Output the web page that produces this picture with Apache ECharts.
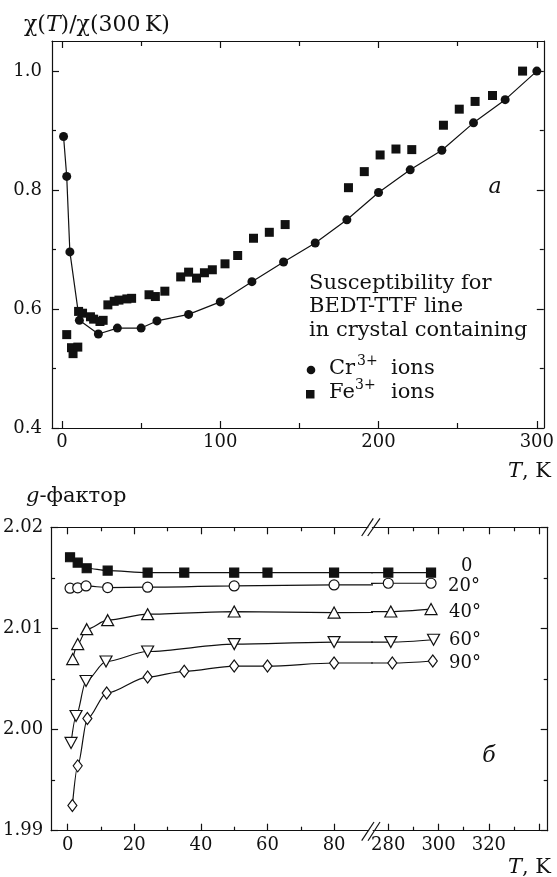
<!DOCTYPE html>
<html><head><meta charset="utf-8">
<script src="https://cdn.jsdelivr.net/npm/echarts@6/dist/echarts.min.js"></script>
<style>html,body{margin:0;padding:0;background:#fff}#c{width:557px;height:877px}</style>
</head><body><div id="c"></div><script>
const FONT = 'DejaVu Serif';
const INK = '#111';

// ---- Panel a: chi(T)/chi(300 K) ----
const crT   = [1, 3, 5, 11, 23, 35, 50, 60, 80, 100, 120, 140, 160, 180, 200, 220, 240, 260, 280, 300];
const crChi = [0.890, 0.823, 0.696, 0.581, 0.558, 0.568, 0.568, 0.580, 0.591, 0.612, 0.646, 0.679, 0.711, 0.750, 0.796, 0.834, 0.867, 0.913, 0.952, 1.000];
const feT   = [3, 6, 7, 10, 10.5, 13, 18, 20, 24, 26, 29, 33, 36, 41, 44, 55, 59, 65, 75, 80, 85, 90, 95, 103, 111, 121, 131, 141, 181, 191, 201, 211, 221, 241, 251, 261, 272, 291];
const feChi = [0.557, 0.535, 0.525, 0.536, 0.596, 0.593, 0.587, 0.583, 0.579, 0.581, 0.607, 0.613, 0.615, 0.617, 0.618, 0.624, 0.621, 0.630, 0.654, 0.662, 0.652, 0.661, 0.666, 0.676, 0.690, 0.719, 0.729, 0.742, 0.804, 0.831, 0.859, 0.869, 0.868, 0.909, 0.936, 0.949, 0.959, 1.000];
const topXMajor = [0, 100, 200, 300];
const topXMinor = [50, 150, 250];
const topYMajor = [0.4, 0.6, 0.8, 1.0];
const topYMinor = [0.5, 0.7, 0.9];

// ---- Panel б: g-factor ----
const g0T  = [0.7, 3, 5.7, 12, 24, 35, 50, 60, 80, 280, 297];
const g0   = [2.01704, 2.01651, 2.01595, 2.01572, 2.01552, 2.01552, 2.01552, 2.01552, 2.01552, 2.01552, 2.01552];
const g20T = [0.7, 3, 5.5, 12, 24, 50, 80, 280, 297];
const g20  = [2.01398, 2.01402, 2.01420, 2.01404, 2.01408, 2.01420, 2.01430, 2.01447, 2.01447];
const g40T = [1.5, 3, 5.7, 12, 24, 50, 80, 281, 297];
const g40  = [2.00697, 2.00845, 2.00993, 2.01082, 2.01141, 2.01167, 2.01157, 2.01167, 2.01191];
const g60T = [1, 2.5, 5.5, 11.5, 24, 50, 80, 281, 298];
const g60  = [1.99868, 2.00134, 2.00480, 2.00673, 2.00772, 2.00845, 2.00865, 2.00865, 2.00888];
const g90T = [1.4, 3, 5.9, 11.7, 24, 35, 50, 60, 80, 281.6, 297.7];
const g90  = [1.99250, 1.99641, 2.00109, 2.00361, 2.00519, 2.00576, 2.00628, 2.00628, 2.00658, 2.00658, 2.00678];
const angleLabels = ['0', '20°', '40°', '60°', '90°'];
const botXMajorL = [0, 20, 40, 60, 80];
const botXMinorL = [10, 30, 50, 70];
const botXMajorR = [280, 300, 320, 340];
const botXLabelR = [280, 300, 320];
const botXMinorR = [290, 310, 330];
const botYMajor = [1.99, 2.00, 2.01, 2.02];
const botYMinor = [1.995, 2.005, 2.015];

const zip = (a, b) => a.map((v, i) => [v, b[i]]);

function ax(gridIndex, position, min, max, ticks, tickLen, labels, fmt, showLine, margin) {
  return {
    type: 'value', gridIndex, position, min, max,
    axisLine: { show: showLine, onZero: false, lineStyle: { color: INK, width: 1.2 } },
    axisTick: { show: true, inside: true, length: tickLen, customValues: ticks, lineStyle: { color: INK, width: 1.2 } },
    axisLabel: labels ? { show: true, customValues: labels, formatter: fmt, fontFamily: FONT, fontSize: 18, color: INK, margin: margin } : { show: false },
    splitLine: { show: false }, minorTick: { show: false }, minorSplitLine: { show: false }
  };
}
const f0 = v => String(v);
const f1 = v => v.toFixed(1);
const f2 = v => v.toFixed(2);

const TX = [-6.3, 304.4], TY = [0.4, 1.0506];
const BXL = [-5, 91.3], BXR = [273.4, 343.4], BY = [1.99, 2.02];

const xAxis = [
  ax(0, 'bottom', TX[0], TX[1], topXMajor, 7, topXMajor, f0, true, 5),
  ax(0, 'bottom', TX[0], TX[1], topXMinor, 5, null, null, false),
  ax(0, 'top', TX[0], TX[1], topXMajor, 7, null, null, true),
  ax(0, 'top', TX[0], TX[1], topXMinor, 5, null, null, false),
  ax(1, 'bottom', BXL[0], BXL[1], botXMajorL, 7, botXMajorL, f0, true, 6),
  ax(1, 'bottom', BXL[0], BXL[1], botXMinorL, 4, null, null, false),
  ax(1, 'top', BXL[0], BXL[1], botXMajorL, 7, null, null, true),
  ax(1, 'top', BXL[0], BXL[1], botXMinorL, 4, null, null, false),
  ax(2, 'bottom', BXR[0], BXR[1], botXMajorR, 7, botXLabelR, f0, true, 6),
  ax(2, 'bottom', BXR[0], BXR[1], botXMinorR, 4, null, null, false),
  ax(2, 'top', BXR[0], BXR[1], botXMajorR, 7, null, null, true),
  ax(2, 'top', BXR[0], BXR[1], botXMinorR, 4, null, null, false)
];
const yAxis = [
  ax(0, 'left', TY[0], TY[1], topYMajor, 7, topYMajor, f1, true, 10),
  ax(0, 'left', TY[0], TY[1], topYMinor, 4, null, null, false),
  ax(0, 'right', TY[0], TY[1], topYMajor, 7, null, null, true),
  ax(0, 'right', TY[0], TY[1], topYMinor, 4, null, null, false),
  ax(1, 'left', BY[0], BY[1], botYMajor, 7, botYMajor, f2, true, 8),
  ax(1, 'left', BY[0], BY[1], botYMinor, 4, null, null, false),
  ax(2, 'right', BY[0], BY[1], botYMajor, 7, null, null, true),
  ax(2, 'right', BY[0], BY[1], botYMinor, 4, null, null, false)
];

const series = [
  { type: 'line', xAxisIndex: 0, yAxisIndex: 0, data: zip(crT, crChi), symbol: 'circle', symbolSize: 9,
    showAllSymbol: true, itemStyle: { color: INK, opacity: 1 }, lineStyle: { color: INK, width: 1.2 }, z: 3 },
  { type: 'scatter', xAxisIndex: 0, yAxisIndex: 0, data: zip(feT, feChi), symbol: 'rect', symbolSize: 9,
    itemStyle: { color: INK, opacity: 1 }, z: 4 }
];
const gSets = [
  { T: g0T,  g: g0,  symbol: 'rect', size: 9, filled: true },
  { T: g20T, g: g20, symbol: 'circle', size: 10 },
  { T: g40T, g: g40, symbol: 'triangle', size: [12, 11] },
  { T: g60T, g: g60, symbol: 'triangle', size: [12, 11], rotate: 180 },
  { T: g90T, g: g90, symbol: 'diamond', size: [9, 12] }
];
gSets.forEach(s => {
  [[4, 4], [8, 6]].forEach(([xi, yi]) => {
    series.push({
      type: 'line', xAxisIndex: xi, yAxisIndex: yi, data: zip(s.T, s.g), clip: true,
      symbol: s.symbol, symbolSize: s.size, symbolRotate: s.rotate || 0, showAllSymbol: true,
      smooth: 0.3, smoothMonotone: 'x',
      itemStyle: { color: s.filled ? INK : '#fff', borderColor: INK, borderWidth: 1.2, opacity: 1 },
      lineStyle: { color: INK, width: 1.2 }
    });
  });
});

const txt = (text, x, y, size, extra) => Object.assign({
  type: 'text', z: 100,
  style: Object.assign({ text, x, y, fontFamily: FONT, fontSize: size, fill: INK, verticalAlign: 'middle', align: 'left' }, extra || {})
});
const richStyle = size => ({ n: { fontFamily: FONT, fontSize: size, fill: INK }, i: { fontFamily: FONT, fontSize: size, fontStyle: 'italic', fill: INK } });

const graphic = [
  txt('{n|χ(}{i|T}{n|)/χ(300\u2009K)}', 24, 25, 22, { rich: richStyle(22) }),
  txt('{i|T}{n|, K}', 508, 472, 21, { rich: richStyle(21) }),
  txt('a', 495, 187, 22, { fontStyle: 'italic', align: 'center' }),
  txt('Susceptibility for', 309, 284, 21),
  txt('BEDT-TTF line', 309, 307, 21),
  txt('in crystal containing', 309, 330.5, 21),
  { type: 'circle', z: 100, shape: { cx: 311, cy: 370, r: 4.3 }, style: { fill: INK } },
  txt('Cr', 329, 369, 21), txt('3+', 357, 361, 14), txt('ions', 391, 369, 21),
  { type: 'rect', z: 100, shape: { x: 306, y: 390, width: 8.5, height: 8.5 }, style: { fill: INK } },
  txt('Fe', 329, 393, 21), txt('3+', 355, 385, 14), txt('ions', 391, 393, 21),
  txt('{i|g}{n|-фактор}', 26, 497, 21, { rich: richStyle(21) }),
  txt('{i|T}{n|, K}', 508, 868, 21, { rich: richStyle(21) }),
  txt('б', 489, 756, 22, { fontStyle: 'italic', align: 'center' }),
  txt(angleLabels[0], 461, 566, 18),
  txt(angleLabels[1], 448, 586, 18),
  txt(angleLabels[2], 449, 612.5, 18),
  txt(angleLabels[3], 449, 640, 18),
  txt(angleLabels[4], 449, 663, 18),
  // axis break marks
  { type: 'polygon', z: 100, shape: { points: [[364, 534], [373.5, 520], [377, 520], [367.5, 534]] }, style: { fill: '#fff' } },
  { type: 'line', z: 101, shape: { x1: 361.7, y1: 536, x2: 373.3, y2: 518.3 }, style: { stroke: INK, lineWidth: 1.2 } },
  { type: 'line', z: 101, shape: { x1: 367.7, y1: 536, x2: 380, y2: 518.3 }, style: { stroke: INK, lineWidth: 1.2 } },
  { type: 'polygon', z: 100, shape: { points: [[364, 838], [373.5, 824], [377, 824], [367.5, 838]] }, style: { fill: '#fff' } },
  { type: 'line', z: 101, shape: { x1: 361.7, y1: 840.7, x2: 374, y2: 822 }, style: { stroke: INK, lineWidth: 1.2 } },
  { type: 'line', z: 101, shape: { x1: 368, y1: 840.7, x2: 380, y2: 822 }, style: { stroke: INK, lineWidth: 1.2 } }
];

const chart = echarts.init(document.getElementById('c'), null, { renderer: 'canvas' });
chart.setOption({
  animation: false,
  backgroundColor: '#fff',
  grid: [
    { left: 52, top: 41, width: 494, height: 387 },
    { left: 51, top: 527.3, width: 320.7, height: 303.4 },
    { left: 371.7, top: 527.3, width: 176, height: 303.4 }
  ],
  xAxis, yAxis, series, graphic
});
</script></body></html>
